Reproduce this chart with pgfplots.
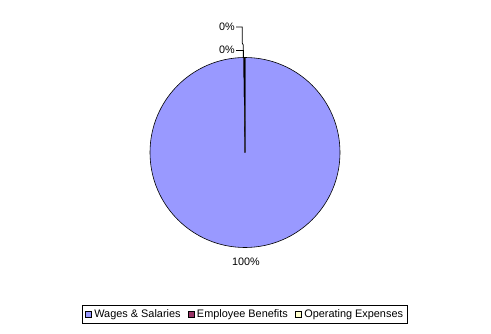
\documentclass[border=0pt]{standalone}
\usepackage{pgfplots}
\pgfplotsset{compat=1.18}
\usepackage{pgfplotstable}
\usepackage{fontspec}
\setmainfont{Liberation Sans}
\definecolor{wagesc}{HTML}{9999FF}
\definecolor{benefc}{HTML}{993366}
\definecolor{operc}{HTML}{FFFFCC}
\pgfplotstableread{
name value
Wages 99.80
Benefits 0.05
Operating 0.15
}\piedata
\begin{document}
\begin{tikzpicture}[font=\fontsize{10.8}{13}\selectfont]
\pgfplotstablegetelem{0}{value}\of\piedata \pgfmathsetmacro{\va}{\pgfplotsretval}
\pgfplotstablegetelem{1}{value}\of\piedata \pgfmathsetmacro{\vb}{\pgfplotsretval}
\pgfplotstablegetelem{2}{value}\of\piedata \pgfmathsetmacro{\vc}{\pgfplotsretval}
\pgfmathsetmacro{\tot}{\va+\vb+\vc}
\pgfmathsetmacro{\aA}{90}
\pgfmathsetmacro{\aB}{90-(\va/\tot)*360}
\pgfmathsetmacro{\aC}{\aB-(\vb/\tot)*360}
\pgfmathsetmacro{\aD}{\aC-(\vc/\tot)*360}
\begin{axis}[
  x=1pt, y=1pt, xmin=0, xmax=491, ymin=0, ymax=333,
  scale only axis, hide axis, clip=false,
  legend style={at={(axis cs:244.5,18.5)}, anchor=center, draw=black, line width=0.8pt,
    legend columns=3, inner xsep=3pt, inner ysep=3pt,
    nodes={inner sep=1pt, font=\fontsize{10.9}{13}\selectfont, line width=0.4pt},
    /tikz/every odd column/.append style={column sep=2pt},
    /tikz/every even column/.append style={column sep=6pt}},
  legend cell align=left,
]
\path (axis cs:0,0) rectangle (axis cs:491,333);
\addlegendimage{legend image code/.code={\draw[fill=wagesc,draw=black,line width=0.4pt] (0pt,-3pt) rectangle (6pt,3pt);}}
\addlegendentry{Wages \& Salaries}
\addlegendimage{legend image code/.code={\draw[fill=benefc,draw=black,line width=0.4pt] (0pt,-3pt) rectangle (6pt,3pt);}}
\addlegendentry{Employee Benefits}
\addlegendimage{legend image code/.code={\draw[fill=operc,draw=black,line width=0.4pt] (0pt,-3pt) rectangle (6pt,3pt);}}
\addlegendentry{Operating Expenses}
\filldraw[fill=wagesc, draw=black, line width=0.6pt] (axis cs:245,180.5) -- ++(\aA:95pt) arc[start angle=\aA, end angle=\aB, radius=95pt] -- cycle;
\filldraw[fill=benefc, draw=black, line width=0.6pt] (axis cs:245,180.5) -- ++(\aB:95pt) arc[start angle=\aB, end angle=\aC, radius=95pt] -- cycle;
\filldraw[fill=operc, draw=black, line width=0.6pt] (axis cs:245,180.5) -- ++(\aC:95pt) arc[start angle=\aC, end angle=\aD, radius=95pt] -- cycle;
\draw[line width=0.8pt] (axis cs:236,306) -- (axis cs:242.3,306) -- (axis cs:242.3,290) -- (axis cs:243.2,288) -- (axis cs:243.2,275.5);
\draw[line width=0.8pt] (axis cs:236,283) -- (axis cs:243.2,283) -- (axis cs:243.2,275.5);
\node[anchor=east, inner sep=0pt] at (axis cs:235,306) {0\%};
\node[anchor=east, inner sep=0pt] at (axis cs:235,283) {0\%};
\node[inner sep=0pt] at (axis cs:246,71) {100\%};
\end{axis}
\end{tikzpicture}
\end{document}
